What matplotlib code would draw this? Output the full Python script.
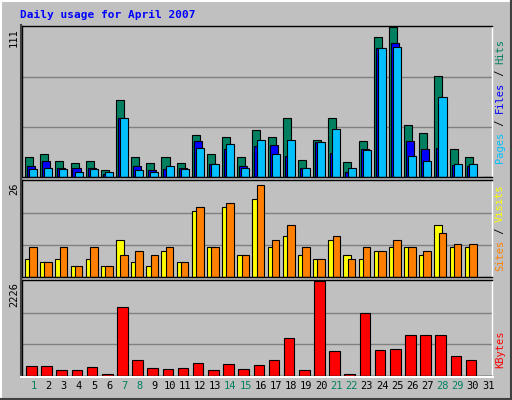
import matplotlib
matplotlib.use("Agg")
import matplotlib.pyplot as plt
from matplotlib.lines import Line2D

days = list(range(1, 32))
hits = [14.6,17.3,12.1,10.6,12.1,5.4,57.2,14.6,10.6,14.6,10.6,31.3,17.3,29.4,14.6,35,30,43.9,12.3,27.1,43.9,10.9,26.4,104.1,111,38.7,33,75.2,20.5,14.6,0]
files = [7.9,11.6,6.4,6.4,6.4,2,43.9,7.9,4.9,5.7,6.4,26.4,9.4,20.5,7.9,22.7,23.4,15.3,6.4,25.7,17.5,3.5,20.5,96,99.7,26.4,20.5,21.2,8.6,7.9,0]
pages = [5.7,6.4,5.7,3.5,5.7,3.5,43.9,4.9,3.5,7.9,5.7,21.2,9.4,24.2,6.4,27.1,16.8,27.1,6.4,25.7,36,6.4,19.7,96,96.7,15.3,11.6,59.7,9.4,9.4,0]
sites = [5,4,5,3,5,3,10,4,3,7,4,18,8,19,6,21,8,11,6,5,10,6,5,7,8,8,6,14,8,8,0]
visits = [8,4,8,3,8,3,6,7,6,8,4,19,8,20,6,25,10,14,8,5,11,5,8,7,10,8,7,12,9,9,0]
kbytes = [232,232,142,142,210,37,1626,367,187,165,187,300,142,277,165,255,367,884,142,2226,592,37,1469,615,637,952,952,952,457,367,0]
weekend = [1,7,8,14,15,21,22,28,29]
hmax, smax, kmax = 111, 26, 2226

W, H = 512, 400
fig = plt.figure(figsize=(W/100, H/100), dpi=100)
fig.patch.set_facecolor('#c0c0c0')
mono = dict(family='DejaVu Sans Mono', weight='bold')

def ax_px(x0, y0, x1, y1):
    a = fig.add_axes([x0/W, 1-y1/H, (x1-x0)/W, (y1-y0)/H])
    a.set_facecolor('#c0c0c0')
    a.set_xlim(0.5, 31.5)
    for s in a.spines.values():
        s.set_color('black'); s.set_linewidth(1)
    a.spines['right'].set_color('white')
    a.set_xticks([]); a.set_yticks([])
    return a

L, R = 22, 492
a1 = ax_px(L, 26, R, 177)
a2 = ax_px(L, 180, R, 277)
a3 = ax_px(L, 280, R, 376)

def grid(a, m):
    a.set_ylim(0, m*1.01)
    for f in (1/3, 2/3):
        a.axhline(m*f, color='#808080', lw=1, zorder=0)

grid(a1, hmax); grid(a2, smax); grid(a3, kmax)

def bars(a, vals, off, w, col):
    a.bar([d - 0.5 + off for d in days], vals, width=w, align='edge',
          color=col, edgecolor='black', linewidth=0.8, zorder=2)

bars(a1, hits, 0.2, 0.53, '#008060')
bars(a1, files, 0.33, 0.53, '#0000ff')
bars(a1, pages, 0.47, 0.53, '#00c0ff')
bars(a2, sites, 0.2, 0.5, '#ffff00')
bars(a2, visits, 0.48, 0.5, '#ff8000')
bars(a3, kbytes, 0.27, 0.7, '#ff0000')

for d in days:
    a3.text(d + 0.25, -0.1, str(d), transform=a3.get_xaxis_transform(),
            ha='center', va='center', fontsize=7.5, family='DejaVu Sans Mono',
            color='#008060' if d in weekend else 'black')

fig.text(20/W, 1-15/H, 'Daily usage for April 2007', color='#0000ff', fontsize=8, va='center', **mono)
for y, t in ((28, str(hmax)), (182, str(smax)), (282, str(kmax))):
    fig.text(14/W, 1-y/H, t, rotation=90, ha='center', va='top', fontsize=7.5, family='DejaVu Sans Mono')

def rlabel(yc, parts):
    total = sum(len(p[0]) for p in parts)
    cw = 6.2
    y = yc + total*cw/2
    for txt, col in parts:
        fig.text(500/W, 1-y/H, txt, rotation=90, ha='center', va='bottom', fontsize=7.5, color=col, family='DejaVu Sans Mono')
        y -= len(txt)*cw

rlabel(101, [('Pages', '#00c0ff'), (' / ', 'black'), ('Files', '#0000ff'), (' / ', 'black'), ('Hits', '#008060')])
rlabel(228, [('Sites', '#ff8000'), (' / ', 'black'), ('Visits', '#ffff00')])
rlabel(349, [('KBytes', '#ff0000')])

# bevel border
def px(x, y): return (x/W, 1-y/H)
for (x0, y0, x1, y1, c) in [(0.5, 0.5, 511.5, 0.5, 'white'), (0.5, 0.5, 0.5, 399.5, 'white'),
                            (511, 0.5, 511, 399.5, '#404040'), (0.5, 399, 511.5, 399, '#404040'),
                            (21, 25, 21, 377, '#404040'), (21, 377, 493, 377, 'white')]:
    p0, p1 = px(x0, y0), px(x1, y1)
    fig.add_artist(Line2D([p0[0], p1[0]], [p0[1], p1[1]], color=c, lw=1.5))

fig.savefig('out.png', dpi=100, facecolor=fig.get_facecolor())
